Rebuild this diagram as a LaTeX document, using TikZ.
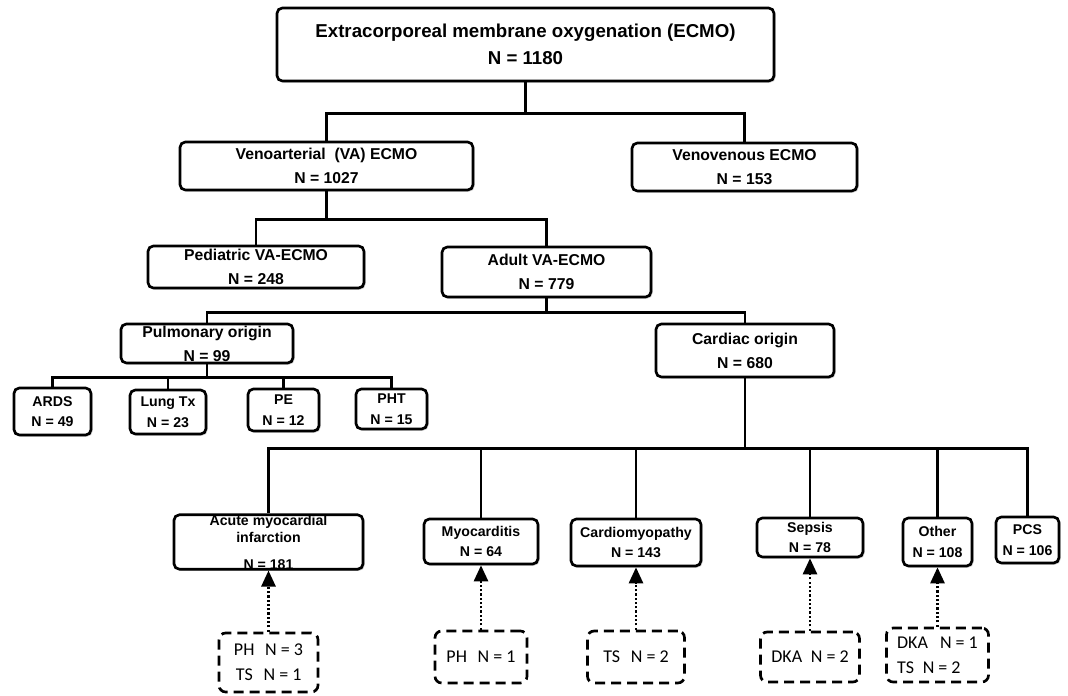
\documentclass[tikz,border=0pt]{standalone}
\definecolor{boxshadow}{HTML}{8C8C8C}
\usepackage{fontspec}
\setmainfont{Liberation Sans}
\newfontfamily\notefont{Carlito}
\usepackage{tikz}
\usetikzlibrary{arrows.meta, shadows}

\begin{document}
\begin{tikzpicture}[x=0.75pt, y=-0.75pt,
    box/.style={draw, line width=2pt, rounded corners=4pt, fill=white,
      align=center, inner xsep=1pt, inner ysep=0pt,
      drop shadow={shadow xshift=1.2pt, shadow yshift=-1.2pt,
        fill=boxshadow, opacity=0.45}},
    topbox/.style={box, font=\bfseries\fontsize{14}{20}\selectfont},
    midbox/.style={box, font=\bfseries\fontsize{11.8}{17.5}\selectfont},
    leafbox/.style={box, font=\bfseries\fontsize{10.6}{15.5}\selectfont},
    notebox/.style={draw, line width=2pt, dash pattern=on 7.5pt off 4.5pt,
      rounded corners=5pt, fill=white, align=left, inner ysep=0pt,
      font=\notefont\fontsize{13.5}{18.75}\selectfont},
    link/.style={line width=1.9pt},
    feed/.style={line width=2pt, dash pattern=on 1.6pt off 1.6pt,
      -{Triangle[width=10.5pt, length=12pt]}}]
        \useasboundingbox (0,0) rectangle (1068,696);
        % Level 1: all ECMO runs
        \node[topbox, minimum width=372.75pt, minimum height=54.75pt]
          (ecmo) at (525.5,44.5)
          {Extracorporeal membrane oxygenation (ECMO)\\N = 1180};
        % Level 2: VA / VV
        \node[midbox, minimum width=219.75pt, minimum height=36pt]
          (va) at (326.5,166) {Venoarterial\ \ (VA) ECMO\\N = 1027};
        \node[midbox, minimum width=168.75pt, minimum height=36pt]
          (vv) at (744.5,167) {Venovenous ECMO\\N = 153};
        % Level 3: pediatric / adult
        \node[midbox, minimum width=162pt, minimum height=31.5pt,
          font=\bfseries\fontsize{11.8}{18}\selectfont]
          (ped) at (256,267) {Pediatric VA-ECMO\\N = 248};
        \node[midbox, minimum width=156.75pt, minimum height=37.5pt]
          (adult) at (546.5,272) {Adult VA-ECMO\\N = 779};
        % Level 4: origin
        \node[midbox, minimum width=129pt, minimum height=29.25pt,
          font=\bfseries\fontsize{11.8}{18}\selectfont]
          (pulm) at (207,343.5) {Pulmonary origin\\N = 99};
        \node[midbox, minimum width=133.5pt, minimum height=39.75pt,
          font=\bfseries\fontsize{11.8}{18}\selectfont]
          (card) at (745,350.5) {Cardiac origin\\N = 680};
        % Level 5a: pulmonary causes
        \node[leafbox, minimum width=57.75pt, minimum height=35.25pt]
          (ards) at (52.5,411.5) {ARDS\\N = 49};
        \node[leafbox, minimum width=57pt, minimum height=33pt]
          (lung) at (168,412) {Lung Tx\\N = 23};
        \node[leafbox, minimum width=53.25pt, minimum height=31.5pt]
          (pe) at (283.5,410) {PE\\N = 12};
        \node[leafbox, minimum width=53.25pt, minimum height=30pt]
          (pht) at (391.5,409) {PHT\\N = 15};
        % Level 5b: cardiac causes
        \node[leafbox, minimum width=141.75pt, minimum height=36pt]
          (ami) at (268.5,542)
          {Acute myocardial\\[-2.75pt]infarction\\[4.75pt]N = 181};
        \node[leafbox, minimum width=85.5pt, minimum height=33.75pt]
          (myo) at (481,541.5) {Myocarditis\\N = 64};
        \node[leafbox, minimum width=97.5pt, minimum height=35.25pt]
          (cmp) at (636,542.5) {Cardiomyopathy\\N = 143};
        \node[leafbox, minimum width=79.5pt, minimum height=29.25pt]
          (sep) at (810,537.5) {Sepsis\\N = 78};
        \node[leafbox, minimum width=51.75pt, minimum height=36pt]
          (oth) at (937.5,542) {Other\\N = 108};
        \node[leafbox, minimum width=47.25pt, minimum height=34.5pt]
          (pcs) at (1027.5,540) {PCS\\N = 106};
        % Level 6: dashed notes
        \node[notebox, minimum width=74.25pt, minimum height=44.25pt]
          (noteami) at (268.5,662.5)
          {PH\hspace{8pt}N = 3\\\hspace{1.5pt}TS\hspace{8pt}N = 1};
        \node[notebox, minimum width=69pt, minimum height=39pt]
          (notemyo) at (481,657) {PH\hspace{8pt}N = 1};
        \node[notebox, minimum width=72.75pt, minimum height=39pt]
          (notecmp) at (636,657) {TS\hspace{8pt}N = 2};
        \node[notebox, minimum width=74.25pt, minimum height=37.5pt]
          (notesep) at (810,657) {DKA\hspace{6.5pt}N = 2};
        \node[notebox, minimum width=76.5pt, minimum height=40.5pt]
          (noteoth) at (937.5,655)
          {DKA\hspace{9pt}N = 1\\TS\hspace{6.5pt}N = 2};
        % Tree lines
        \draw[link] (ecmo.south) -- ++(0,31) -| (va.north);
        \draw[link] (ecmo.south) ++(0,31) -| (vv.north);
        \draw[link] (va.south) -- ++(0,28) -| (ped.north);
        \draw[link] (va.south) ++(0,28) -| (adult.north);
        \draw[link] (adult.south) -- ++(0,14) -| (pulm.north);
        \draw[link] (adult.south) ++(0,14) -| (card.north);
        \foreach \leaf in {ards, lung, pe, pht}
          \draw[link] (pulm.south) -- ++(0,13) -| (\leaf.north);
        \foreach \leaf in {ami, myo, cmp, sep, oth, pcs}
          \draw[link] (card.south) -- ++(0,70) -| (\leaf.north);
        % Dotted arrows note -> cause
        \foreach \src/\dst in {noteami/ami, notemyo/myo, notecmp/cmp,
                               notesep/sep, noteoth/oth}
          \draw[feed] (\src.north) -- (\dst.south);
      \end{tikzpicture}
\end{document}
